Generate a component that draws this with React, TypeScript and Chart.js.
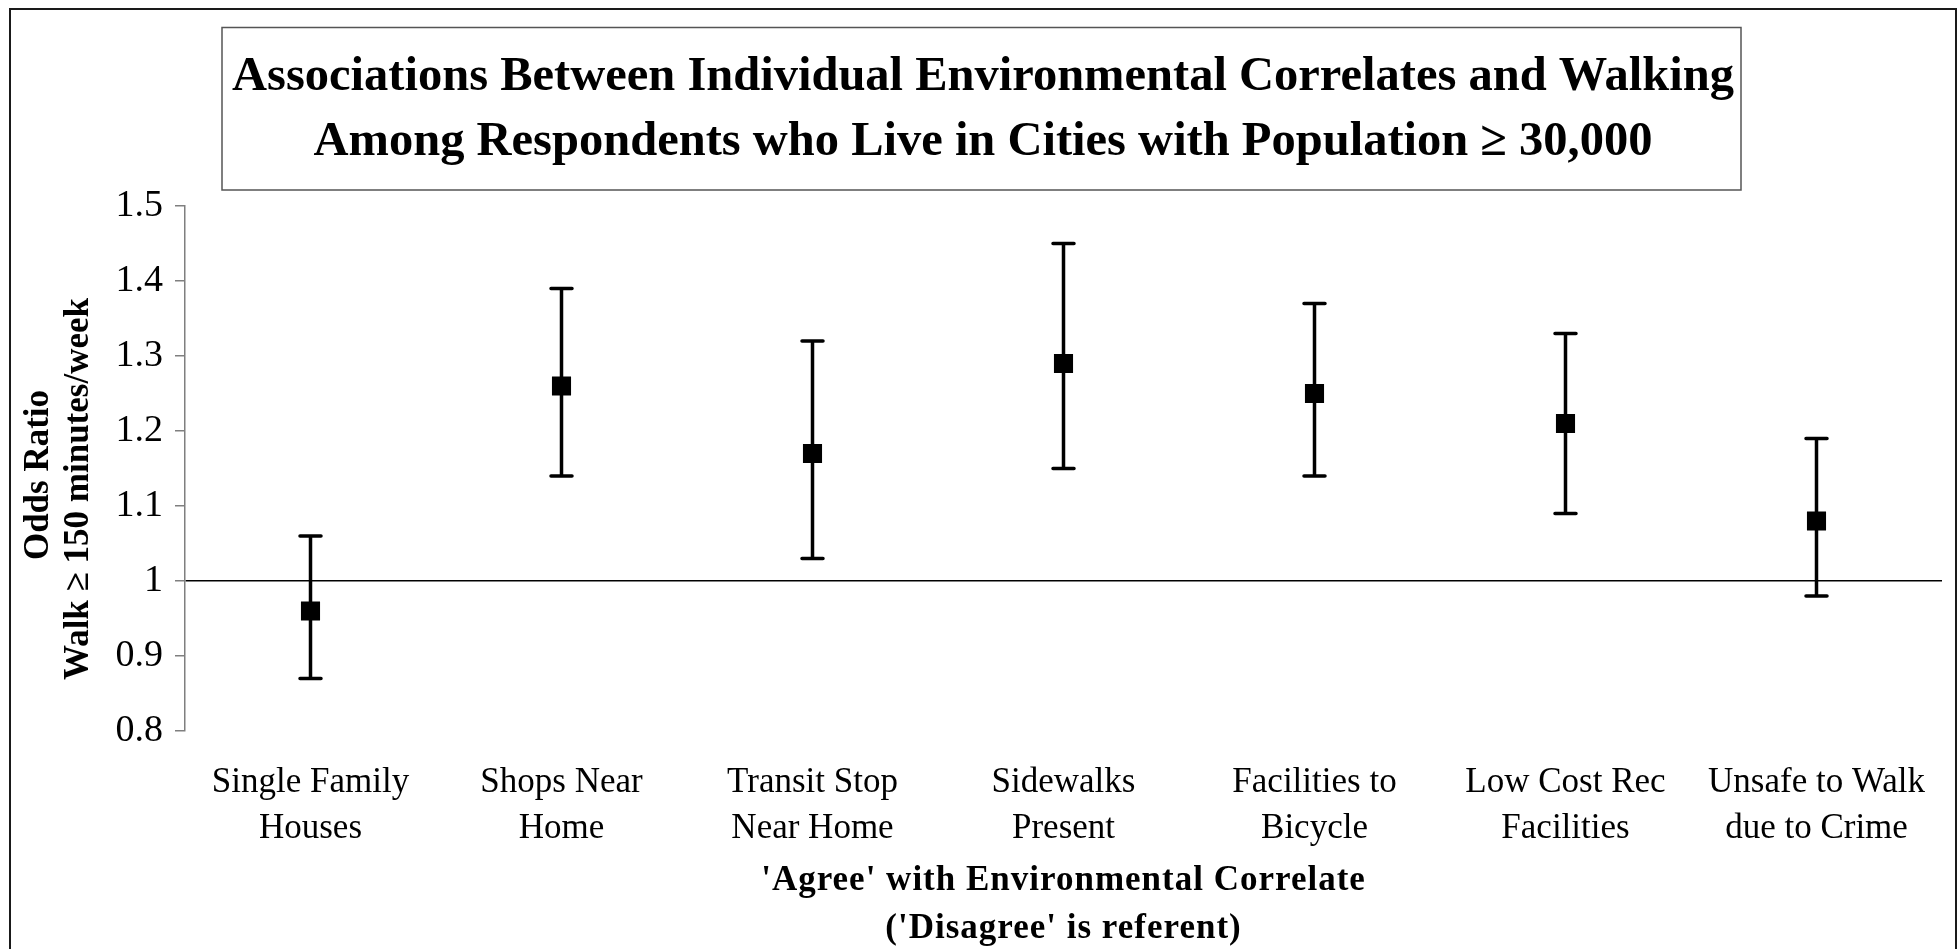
import { useEffect, useRef } from 'react';
import { Chart, registerables } from 'chart.js';

Chart.register(...registerables);

// Environmental correlates (category labels, two lines each)
const categories: string[][] = [
  ['Single Family', 'Houses'],
  ['Shops Near', 'Home'],
  ['Transit Stop', 'Near Home'],
  ['Sidewalks', 'Present'],
  ['Facilities to', 'Bicycle'],
  ['Low Cost Rec', 'Facilities'],
  ['Unsafe to Walk', 'due to Crime'],
];

// Odds ratio point estimates and 95% confidence limits
const oddsRatio = [0.96, 1.26, 1.17, 1.29, 1.25, 1.21, 1.08];
const ciLower = [0.87, 1.14, 1.03, 1.15, 1.14, 1.09, 0.98];
const ciUpper = [1.06, 1.39, 1.32, 1.45, 1.37, 1.33, 1.19];

// Y axis tick values
const yTickValues = [0.8, 0.9, 1, 1.1, 1.2, 1.3, 1.4, 1.5];
const referenceValue = 1;

const titleLines = [
  'Associations Between Individual Environmental Correlates and Walking',
  'Among Respondents who Live in Cities with Population \u2265 30,000',
];
const yTitleLines = ['Odds Ratio', 'Walk \u2265 150 minutes/week'];
const xTitleLines = ["'Agree' with Environmental Correlate", "('Disagree' is referent)"];

const SERIF = "'Times New Roman', 'Liberation Serif', serif";

const framePlugin = {
  id: 'frameAndTitles',
  beforeDraw(chart: any) {
    const { ctx, width, height } = chart;
    ctx.save();
    ctx.fillStyle = '#ffffff';
    ctx.fillRect(0, 0, width, height);
    // outer frame
    ctx.strokeStyle = '#1a1a1a';
    ctx.lineWidth = 2;
    ctx.strokeRect(10, 9, 1946, 1000);
    // title box
    ctx.strokeStyle = '#555555';
    ctx.lineWidth = 1.5;
    ctx.strokeRect(222, 27.5, 1519, 162.5);
    ctx.restore();
  },
  afterDraw(chart: any) {
    const { ctx, chartArea } = chart;
    ctx.save();
    ctx.fillStyle = '#000000';
    // main title
    ctx.font = `bold 48.5px ${SERIF}`;
    ctx.textAlign = 'center';
    ctx.textBaseline = 'alphabetic';
    ctx.fillText(titleLines[0], 983, 90);
    ctx.fillText(titleLines[1], 983, 155);

    // x axis title
    ctx.font = `bold 35px ${SERIF}`;
    (ctx as any).letterSpacing = '1px';
    ctx.textBaseline = 'middle';
    const cx = (chartArea.left + chartArea.right) / 2;
    ctx.fillText(xTitleLines[0], cx, 881);
    ctx.fillText(xTitleLines[1], cx, 929);
    (ctx as any).letterSpacing = '0px';

    // y axis title (rotated)
    ctx.font = `bold 35px ${SERIF}`;
    ctx.save();
    ctx.translate(39, 475);
    ctx.rotate(-Math.PI / 2);
    ctx.fillText(yTitleLines[0], 0, 0);
    ctx.restore();
    ctx.save();
    ctx.translate(79, 489);
    ctx.rotate(-Math.PI / 2);
    ctx.fillText(yTitleLines[1], 0, 0);
    ctx.restore();

    ctx.restore();
  },
};

const errorBarPlugin = {
  id: 'errorBars',
  beforeDatasetsDraw(chart: any) {
    const { ctx } = chart;
    const xs = chart.scales.x;
    const ys = chart.scales.y;
    ctx.save();
    ctx.strokeStyle = '#000000';
    ctx.lineWidth = 3.5;
    ctx.lineCap = 'round';
    for (let i = 0; i < oddsRatio.length; i++) {
      const x = xs.getPixelForValue(i);
      const yHi = ys.getPixelForValue(ciUpper[i]);
      const yLo = ys.getPixelForValue(ciLower[i]);
      const half = 10.5;
      ctx.beginPath();
      ctx.moveTo(x, yHi);
      ctx.lineTo(x, yLo);
      ctx.moveTo(x - half, yHi);
      ctx.lineTo(x + half, yHi);
      ctx.moveTo(x - half, yLo);
      ctx.lineTo(x + half, yLo);
      ctx.stroke();
    }
    ctx.restore();
  },
};

export default function App() {
  const canvasRef = useRef<HTMLCanvasElement | null>(null);

  useEffect(() => {
    const canvas = canvasRef.current;
    if (!canvas) return;
    const chart = new Chart(canvas, {
      type: 'line',
      data: {
        labels: categories as any,
        datasets: [
          {
            label: 'Odds Ratio',
            data: oddsRatio,
            showLine: false,
            pointStyle: 'rect',
            pointRadius: 13.5,
            pointHoverRadius: 13.5,
            pointBackgroundColor: '#000000',
            pointBorderColor: '#000000',
            pointBorderWidth: 0,
            borderColor: '#000000',
            backgroundColor: '#000000',
          },
        ],
      },
      options: {
        animation: false,
        responsive: false,
        devicePixelRatio: 1,
        events: [],
        layout: { padding: { left: 10, top: 206, right: 17, bottom: 0 } },
        plugins: {
          legend: { display: false },
          tooltip: { enabled: false },
          title: { display: false },
        },
        scales: {
          x: {
            type: 'category',
            offset: true,
            grid: { display: false, drawTicks: false },
            border: { display: false },
            ticks: {
              color: '#000000',
              padding: 29,
              maxRotation: 0,
              autoSkip: false,
              font: { family: SERIF, size: 35, lineHeight: 1.32 },
            },
            afterFit(scale: any) {
              scale.height = 218;
            },
          },
          y: {
            type: 'linear',
            min: 0.8,
            max: 1.5,
            afterBuildTicks(scale: any) {
              scale.ticks = yTickValues.map((v) => ({ value: v }));
            },
            afterFit(scale: any) {
              scale.width = 175;
            },
            grid: {
              color: (c: any) =>
                c.tick && Math.abs(c.tick.value - referenceValue) < 1e-9 ? '#000000' : 'rgba(0,0,0,0)',
              lineWidth: 1.5,
              tickColor: '#7f7f7f',
              tickWidth: 1.5,
              tickLength: 10,
              drawTicks: true,
            },
            border: { display: true, color: '#7f7f7f', width: 1.5 },
            ticks: {
              color: '#000000',
              padding: 12,
              font: { family: SERIF, size: 38 },
              callback: (v: any) => String(Number(Number(v).toFixed(1))),
            },
          },
        },
      },
      plugins: [framePlugin, errorBarPlugin],
    });
    return () => chart.destroy();
  }, []);

  return (
    <div style={{ position: 'fixed', left: 0, top: 0, width: 1959, height: 949, background: '#fff' }}>
      <canvas ref={canvasRef} width={1959} height={949} style={{ display: 'block' }} />
    </div>
  );
}
